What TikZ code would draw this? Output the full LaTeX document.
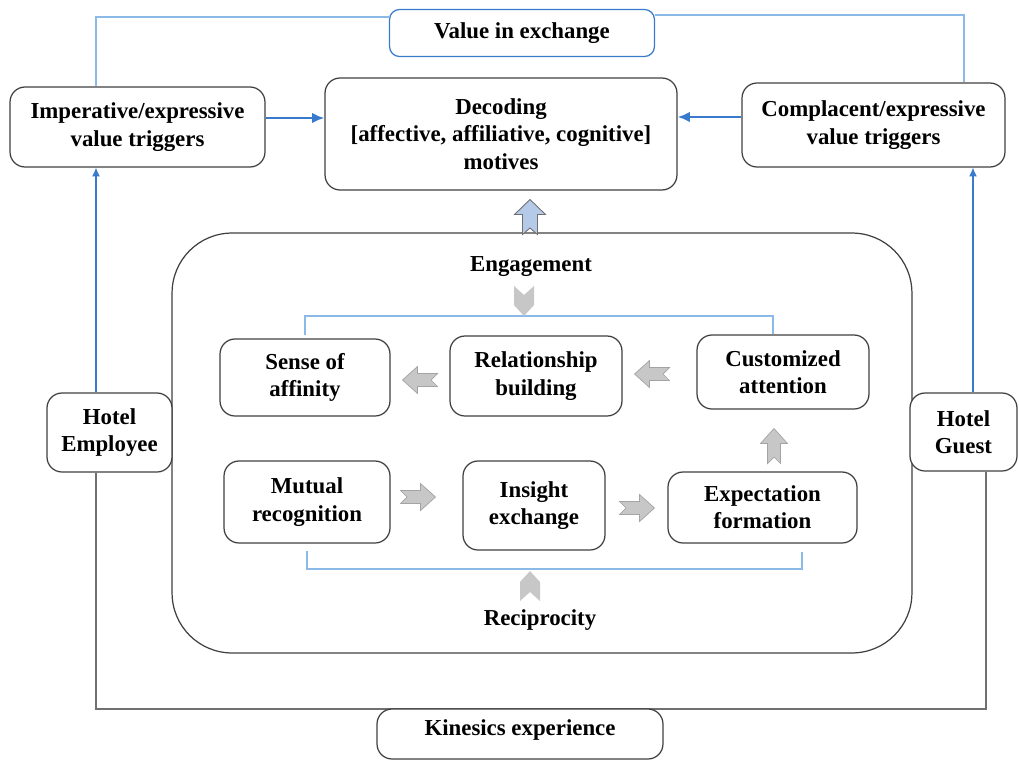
\documentclass[tikz,border=0pt]{standalone}
\usepackage{fontspec}
\setmainfont{Liberation Serif}
\usetikzlibrary{calc,arrows.meta}
\definecolor{FrameClr}{rgb}{0.25,0.25,0.25}
\definecolor{LinkClr}{rgb}{0.22,0.48,0.80}
\definecolor{PaleClr}{rgb}{0.55,0.73,0.91}
\definecolor{RimClr}{rgb}{0.44,0.44,0.44}
\definecolor{ChevClr}{rgb}{0.78,0.78,0.78}
\definecolor{ChevLine}{rgb}{0.64,0.64,0.64}
\definecolor{LiftClr}{rgb}{0.71,0.79,0.91}

\begin{document}
\begin{tikzpicture}[x=0.02cm,y=-0.02cm,
  font=\fontsize{13}{15.5}\selectfont\bfseries,
  box/.style={draw=FrameClr,line width=0.7pt,rounded corners=0.3cm,
    align=center,inner sep=0pt,fill=white},
  link/.style={PaleClr,line width=0.6pt},
  push/.style={LinkClr,line width=1.4pt,-{Latex[length=7pt,width=6pt]}},
  lift/.style={LinkClr,line width=0.7pt,-{Latex[length=5pt,width=4.5pt]}},
  rim/.style={RimClr,line width=0.7pt},
  pics/notched/.style={code={
    \path[pic actions] (-17.5,-6.5) -- (2.5,-6.5) -- (2.5,-13.5) -- (17.5,0)
      -- (2.5,13.5) -- (2.5,6.5) -- (-17.5,6.5) -- (-11,0) -- cycle;}},
  pics/chevron/.style={code={
    \path[pic actions] (-15,-10) -- (4,-10) -- (15,0) -- (4,10) -- (-15,10)
      -- (-6,0) -- cycle;}}]
\useasboundingbox (0,0) rectangle (1019,761);

% outer boxes
\node[box,rounded corners=0.2cm,draw=LinkClr,minimum width=5.3cm,minimum height=0.94cm] (val) at (522,33) {Value in exchange};
\node[box,minimum width=5.1cm,minimum height=1.6cm] (imp) at (137.5,127) {Imperative/expressive\\value triggers};
\node[box,minimum width=7.04cm,minimum height=2.24cm] (dec) at (501,134) {Decoding\\{}[affective, affiliative, cognitive]\\motives};
\node[box,minimum width=5.26cm,minimum height=1.68cm] (com) at (873.5,125) {Complacent/expressive\\value triggers};

% engagement frame
\node[box,rounded corners=1.2cm,minimum width=14.8cm,minimum height=8.4cm] (core) at (542,443) {};
\node (engage) at (531,267) {Engagement};
\node (recip) at (540,620) {Reciprocity};

\node[box,minimum width=3.4cm,minimum height=1.54cm] (aff) at (305,377.5) {Sense of\\affinity};
\node[box,minimum width=3.44cm,minimum height=1.6cm] (rel) at (536,376) {Relationship\\building};
\node[box,minimum width=3.44cm,minimum height=1.48cm] (cus) at (783,372) {Customized\\attention};
\node[box,minimum width=3.32cm,minimum height=1.64cm] (mut) at (307,502) {Mutual\\recognition};
\node[box,minimum width=2.84cm,minimum height=1.78cm] (ins) at (534,505.5) {Insight\\exchange};
\node[box,minimum width=3.78cm,minimum height=1.42cm] (exp) at (762.5,507.5) {Expectation\\formation};

% actors
\node[box,minimum width=2.5cm,minimum height=1.58cm] (emp) at (109.5,432.5) {Hotel\\Employee};
\node[box,minimum width=2.14cm,minimum height=1.56cm] (gst) at (963.5,432) {Hotel\\Guest};

% links
\draw[push] ([yshift=0.18cm]imp.east) -- ([yshift=0.18cm]imp.east -| dec.west);
\draw[push] ([yshift=0.16cm]com.west) -- ([yshift=0.16cm]com.west -| dec.east);
\draw[lift] (emp.north -| 96,0) -- (imp.south -| 96,0);
\draw[lift] (gst.north -| 973,0) -- (com.south -| 973,0);
\draw[link] (imp.north -| 96,0) |- (val.west |- 0,17);
\draw[link] (val.east |- 0,15) -| (com.north -| 964,0);

\draw[link] (aff.north |- 0,335) |- (773,316) -- (cus.north -| 773,0);
\draw[link] (mut.south |- 0,551) |- (802,569) -- ($(exp.south -| 802,0)+(0,8)$);

% kinesics
\draw[rim] (emp.south -| 96,0) |- (520,709) -| (gst.south -| 986,0);
\node[box,minimum width=5.72cm,minimum height=1.0cm] (kin) at (520,734) {};
\node at (520,730) {Kinesics experience};

% block arrows
\pic[fill=LiftClr,draw=RimClr,line width=0.5pt,rotate=90,yscale=1.15] at (530,217) {notched};
\pic[fill=ChevClr,draw=ChevLine,line width=0.4pt,rotate=180] at (420,380) {notched};
\pic[fill=ChevClr,draw=ChevLine,line width=0.4pt,rotate=180] at (652,374) {notched};
\pic[fill=ChevClr,draw=ChevLine,line width=0.4pt] at (418,497) {notched};
\pic[fill=ChevClr,draw=ChevLine,line width=0.4pt] at (637,508) {notched};
\pic[fill=ChevClr,draw=ChevLine,line width=0.4pt,rotate=90] at (774,446) {notched};
\pic[fill=ChevClr,rotate=-90] at (524,301) {chevron};
\pic[fill=ChevClr,rotate=90] at (530,586) {chevron};
\end{tikzpicture}
\end{document}
